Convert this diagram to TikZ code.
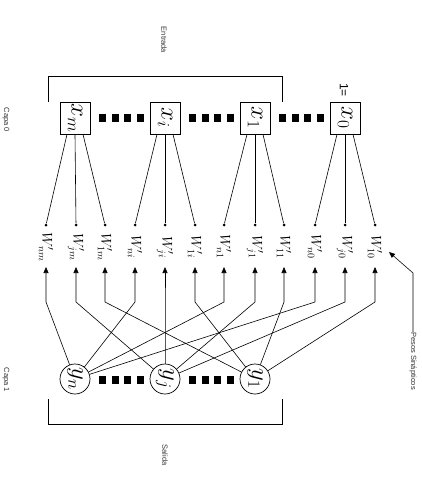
\documentclass[tikz,border=0pt]{standalone}
\usepackage{fontspec}
\setmainfont{Liberation Sans}
\usetikzlibrary{arrows.meta}
\newcommand{\rotlbl}[1]{\rotatebox{-90}{#1}}
\begin{document}
\begin{tikzpicture}[x=1pt,y=-1pt,
  line width=0.6pt,
  inbox/.style={draw,line width=0.7pt,minimum width=30pt,minimum height=32pt,inner sep=0pt,fill=white},
  outcirc/.style={draw,circle,line width=0.7pt,minimum size=30pt,inner sep=0pt,fill=white},
  sq/.style={fill=black,minimum width=7pt,minimum height=8pt,inner sep=0pt},
  wdot/.style={circle,fill=black,minimum size=3pt,inner sep=0pt},
  wlab/.style={inner sep=0pt,font=\fontsize{14}{16}\selectfont},
  bigl/.style={inner sep=0pt,font=\fontsize{24}{26}\selectfont},
  lbl/.style={inner sep=0pt,font=\fontsize{7.5}{9}\selectfont,text=black!80},
  arr/.style={-{Triangle[length=6pt,width=5pt]}},
  brk/.style={line width=0.7pt}
]
\useasboundingbox (0,0) rectangle (422,481);

% labels
\node[lbl] (entrada) at (164,40) {\rotlbl{Entrada}};
\node[lbl] (salida) at (165,455) {\rotlbl{Salida}};
\node[lbl] (capa0) at (6,120) {\rotlbl{Capa 0}};
\node[lbl] (capa1) at (6,380) {\rotlbl{Capa 1}};
\node[lbl] (pesos) at (413,361) {\rotlbl{Pesos Sinápticos}};
\node[inner sep=0pt,font=\fontsize{12}{14}\selectfont] (uno) at (344,90) {\rotlbl{1=}};

% brackets
\draw[brk] (48,102) -- (48,76) -- (282,76) -- (282,102);
\draw[brk] (48,399) -- (48,424) -- (282,424) -- (282,399);

% input boxes
\node[inbox] (xm) at (75,118) {\rotlbl{\fontsize{24}{26}\selectfont$x_m$}};
\node[inbox] (xi) at (165,118) {\rotlbl{\fontsize{24}{26}\selectfont$x_i$}};
\node[inbox] (x1) at (255,118) {\rotlbl{\fontsize{24}{26}\selectfont$x_1$}};
\node[inbox] (x0) at (345,118) {\rotlbl{\fontsize{24}{26}\selectfont$x_0$}};

% output circles
\node[outcirc] (yn) at (75,379) {\rotlbl{\fontsize{24}{26}\selectfont$y_n$}};
\node[outcirc] (yj) at (165,379) {\rotlbl{\fontsize{24}{26}\selectfont$y_j$}};
\node[outcirc] (y1) at (255,379) {\rotlbl{\fontsize{24}{26}\selectfont$y_1$}};

% dotted squares
\foreach \g in {0,1,2}{
  \foreach \s in {0,1,2,3}{
    \node[sq] (ts\g\s) at ({102.5+90*\g+12.5*\s},118) {};
  }
}
\foreach \g in {0,1}{
  \foreach \s in {0,1,2,3}{
    \node[sq] (bs\g\s) at ({102.5+90*\g+12.5*\s},379.5) {};
  }
}

% weights and connections
\foreach \k/\xx/\lab/\src/\off/\dst in {
  1/46/nm/xm/-8/yn, 2/76/jm/xm/0/yj, 3/105/1m/xm/8/y1,
  4/135/ni/xi/-8/yn, 5/165/ji/xi/0/yj, 6/195/1i/xi/8/y1,
  7/224/n1/x1/-8/yn, 8/255/j1/x1/0/yj, 9/284/11/x1/8/y1,
  10/315/n0/x0/-8/yn, 11/345/j0/x0/0/yj, 12/375/10/x0/8/y1}{
  \node[wdot] (t\k) at (\xx,225) {};
  \node[wlab] (w\k) at (\xx,247) {\rotlbl{$W'_{\lab}$}};
  \coordinate (a\k) at (\xx,267);
  \coordinate (k\k) at (\xx,302);
  \draw ([xshift=\off pt]\src.south) -- (t\k);
  \draw[arr] (\dst) -- (k\k) -- (a\k);
}

% pesos sinapticos arrow
\coordinate (pb) at (413,273);
\coordinate (ptip) at (389,252);
\draw[arr] (pesos.north) -- (pb) -- (ptip);
\end{tikzpicture}
\end{document}
